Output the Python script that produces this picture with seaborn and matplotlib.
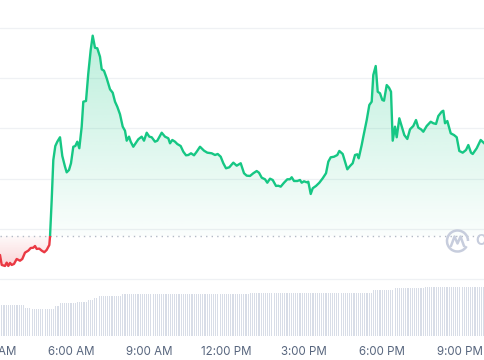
import matplotlib
matplotlib.use("Agg")
import matplotlib.pyplot as plt
from matplotlib.patches import Rectangle, Arc
import numpy as np
import pandas as pd
import seaborn as sns

# price trace (hours since midnight, price in USD)
hours = [3.262, 3.328, 3.455, 3.520, 3.582, 3.648, 3.713, 3.802, 3.906, 4.033,
         4.122, 4.226, 4.354, 4.446, 4.546, 4.612, 4.677, 4.778, 4.870, 4.971,
         5.063, 5.164, 5.191, 5.256, 5.318, 5.395, 5.472, 5.576, 5.665, 5.769,
         5.834, 5.923, 6.000, 6.089, 6.166, 6.243, 6.321, 6.413, 6.475, 6.579,
         6.668, 6.760, 6.837, 6.926, 7.015, 7.119, 7.185, 7.273, 7.377, 7.505,
         7.609, 7.698, 7.786, 7.890, 7.995, 8.083, 8.149, 8.238, 8.303, 8.403,
         8.508, 8.596, 8.727, 8.816, 8.920, 9.020, 9.113, 9.240, 9.329, 9.499,
         9.626, 9.753, 9.819, 9.908, 10.012, 10.100, 10.231, 10.332, 10.436, 10.525,
         10.629, 10.745, 10.849, 10.976, 11.130, 11.258, 11.427, 11.555, 11.659, 11.774,
         11.875, 11.979, 12.106, 12.261, 12.391, 12.546, 12.673, 12.777, 12.905, 13.032,
         13.163, 13.252, 13.356, 13.483, 13.572, 13.676, 13.780, 13.907, 13.996, 14.089,
         14.216, 14.343, 14.447, 14.513, 14.602, 14.729, 14.833, 14.898, 14.987, 15.091,
         15.153, 15.246, 15.323, 15.450, 15.578, 15.709, 15.836, 15.925, 16.017, 16.145,
         16.272, 16.349, 16.480, 16.569, 16.658, 16.762, 16.865, 16.954, 17.043, 17.097,
         17.212, 17.275, 17.406, 17.506, 17.598, 17.660, 17.753, 17.830, 17.919, 18.007,
         18.073, 18.177, 18.266, 18.343, 18.408, 18.497, 18.563, 18.663, 18.779, 18.856,
         18.972, 19.076, 19.203, 19.307, 19.396, 19.500, 19.589, 19.720, 19.874, 19.975,
         20.079, 20.168, 20.299, 20.360, 20.426, 20.515, 20.646, 20.773, 20.877, 20.977,
         21.108, 21.236, 21.325, 21.428, 21.494, 21.648, 21.802, 21.968]
prices = [1.2243, 1.2144, 1.2134, 1.2167, 1.2134, 1.2164, 1.2144, 1.2154, 1.2203, 1.2186,
          1.2203, 1.2266, 1.2286, 1.2312, 1.2315, 1.2332, 1.2303, 1.2306, 1.2286, 1.2270,
          1.2293, 1.2342, 1.2425, 1.2789, 1.3185, 1.3324, 1.3367, 1.3411, 1.3225, 1.3119,
          1.3063, 1.3086, 1.3153, 1.3317, 1.3324, 1.3367, 1.3302, 1.3516, 1.3764, 1.3771,
          1.4046, 1.4277, 1.4419, 1.4299, 1.4294, 1.4210, 1.4085, 1.4071, 1.3996, 1.3887,
          1.3853, 1.3764, 1.3714, 1.3639, 1.3516, 1.3476, 1.3377, 1.3417, 1.3367, 1.3317,
          1.3357, 1.3391, 1.3417, 1.3377, 1.3456, 1.3417, 1.3411, 1.3367, 1.3377, 1.3456,
          1.3417, 1.3401, 1.3351, 1.3384, 1.3367, 1.3344, 1.3324, 1.3268, 1.3232, 1.3235,
          1.3252, 1.3232, 1.3268, 1.3317, 1.3278, 1.3258, 1.3252, 1.3235, 1.3245, 1.3218,
          1.3153, 1.3103, 1.3113, 1.3159, 1.3129, 1.3153, 1.3054, 1.3030, 1.3027, 1.3054,
          1.3076, 1.3059, 1.3010, 1.2994, 1.2960, 1.3000, 1.2987, 1.2928, 1.2930, 1.2921,
          1.2960, 1.2994, 1.2994, 1.3014, 1.2977, 1.2977, 1.2987, 1.2960, 1.2974, 1.2964,
          1.2970, 1.2848, 1.2905, 1.2928, 1.2960, 1.3004, 1.3054, 1.3169, 1.3212, 1.3218,
          1.3235, 1.3275, 1.3245, 1.3169, 1.3093, 1.3126, 1.3153, 1.3235, 1.3242, 1.3202,
          1.3334, 1.3417, 1.3582, 1.3731, 1.3764, 1.4029, 1.4118, 1.3863, 1.3847, 1.3781,
          1.3774, 1.3929, 1.3903, 1.3863, 1.3377, 1.3516, 1.3411, 1.3599, 1.3500, 1.3433,
          1.3394, 1.3490, 1.3523, 1.3582, 1.3506, 1.3490, 1.3466, 1.3523, 1.3565, 1.3550,
          1.3543, 1.3622, 1.3665, 1.3674, 1.3550, 1.3572, 1.3450, 1.3433, 1.3411, 1.3275,
          1.3258, 1.3285, 1.3334, 1.3258, 1.3245, 1.3302, 1.3384, 1.3344]
open_price = 1.2432

# 24h volume, step levels (in millions) starting at these hours
vol_breaks = [3.26, 4.23, 4.50, 5.34, 5.58, 6.23, 6.62, 6.85, 7.04, 7.97, 12.90, 17.61, 18.50, 19.65]
vol_levels = [31, 28.5, 27, 30.5, 32.7, 34, 36, 38.3, 40, 42, 43, 45.7, 47.7, 49]

tick_hours = [3, 6, 9, 12, 15, 18, 21]
tick_labels = ['3:00 AM', '6:00 AM', '9:00 AM', '12:00 PM', '3:00 PM', '6:00 PM', '9:00 PM']

GREEN = '#16c784'
RED = '#ea3943'
GREY = '#58667e'

sns.set_style("white")
plt.rcParams['font.family'] = ['Inter', 'DejaVu Sans']

df = pd.DataFrame({'hour': hours, 'price': prices})
x0, x1 = df['hour'].min(), df['hour'].max()

fig = plt.figure(figsize=(4.85, 3.6), dpi=100)
ax = fig.add_axes([0, 75 / 360, 1, 285 / 360])
ax.set_xlim(x0, x1)
ax.set_ylim(1.1945, 1.4773)

for g in np.arange(1.20, 1.451, 0.05):
    ax.axhline(g, color='#eff1f4', lw=0.9, zorder=0)

# gradient fills clipped to the area between the price and the open
up = ax.fill_between(df['hour'], np.maximum(df['price'], open_price), open_price,
                     color='none', lw=0)
down = ax.fill_between(df['hour'], np.minimum(df['price'], open_price), open_price,
                       color='none', lw=0)

grad = np.zeros((256, 1, 4))
grad[..., :3] = matplotlib.colors.to_rgb(GREEN)
grad[:, 0, 3] = np.linspace(0.30, 0.02, 256)
im = ax.imshow(grad, extent=[x0, x1, open_price, 1.452], aspect='auto', origin='upper', zorder=1)
im.set_clip_path(up.get_paths()[0], transform=ax.transData)

rgrad = np.zeros((256, 1, 4))
rgrad[..., :3] = matplotlib.colors.to_rgb(RED)
rgrad[:, 0, 3] = np.linspace(0.02, 0.22, 256)
rim = ax.imshow(rgrad, extent=[x0, x1, df['price'].min(), open_price], aspect='auto',
                origin='upper', zorder=1)
rim.set_clip_path(down.get_paths()[0], transform=ax.transData)

ax.axhline(open_price, color='#b3bac6', lw=1, ls=(0, (1, 3)), zorder=2)

# green above the open, red below
sns.lineplot(data=df, x='hour', y='price', color=GREEN, lw=1.7, ax=ax, zorder=3)
ax.lines[-1].set_clip_path(Rectangle((x0, open_price), x1 - x0, 1, transform=ax.transData))
sns.lineplot(data=df, x='hour', y='price', color=RED, lw=1.7, ax=ax, zorder=3)
ax.lines[-1].set_clip_path(Rectangle((x0, open_price - 1), x1 - x0, 1, transform=ax.transData))
ax.set_axis_off()

# volume bars
vax = fig.add_axes([0, 24 / 360, 1, 51 / 360])
bar_hours = np.arange(3.25, 22.0, 5 / 60)
idx = np.clip(np.searchsorted(vol_breaks, bar_hours, side='right') - 1, 0, None)
bar_vol = np.array(vol_levels)[idx]
vax.bar(bar_hours, bar_vol, width=2.6 / 60, color='#d8dde7', lw=0)
vax.set_xlim(x0, x1)
vax.set_ylim(0, 51)
vax.set_yticks([])
vax.set_xticks(tick_hours[1:])
vax.set_xticklabels(tick_labels[1:])
vax.tick_params(axis='x', length=0, pad=7, labelsize=8.3, labelcolor=GREY)
for s in vax.spines.values():
    s.set_visible(False)

# first label sits left of the visible range, so it is cut by the edge
fig.canvas.draw()
ref = vax.get_xticklabels()[0]
vax.text(tick_hours[0], ref.get_position()[1], tick_labels[0], transform=ref.get_transform(),
         ha='center', va='top', fontsize=8.3, color=GREY, clip_on=False)

# watermark logo
wax = fig.add_axes([0, 0, 1, 1])
wax.set_xlim(0, 485)
wax.set_ylim(360, 0)
wax.set_axis_off()
wax.add_patch(Arc((457.5, 241), 21, 21, theta1=-330, theta2=0, color='#c7cddd', lw=1.8))
wax.plot([451, 454.5, 457.5, 460.5, 464], [246, 236.5, 243.5, 236.5, 246],
         color='#c7cddd', lw=1.8, solid_joinstyle='round')
wax.text(475, 241, 'CoinMarketCap', fontsize=10.5, color='#c7cddd', va='center',
         ha='left', fontweight='bold')

fig.savefig('out.png', dpi=100)
